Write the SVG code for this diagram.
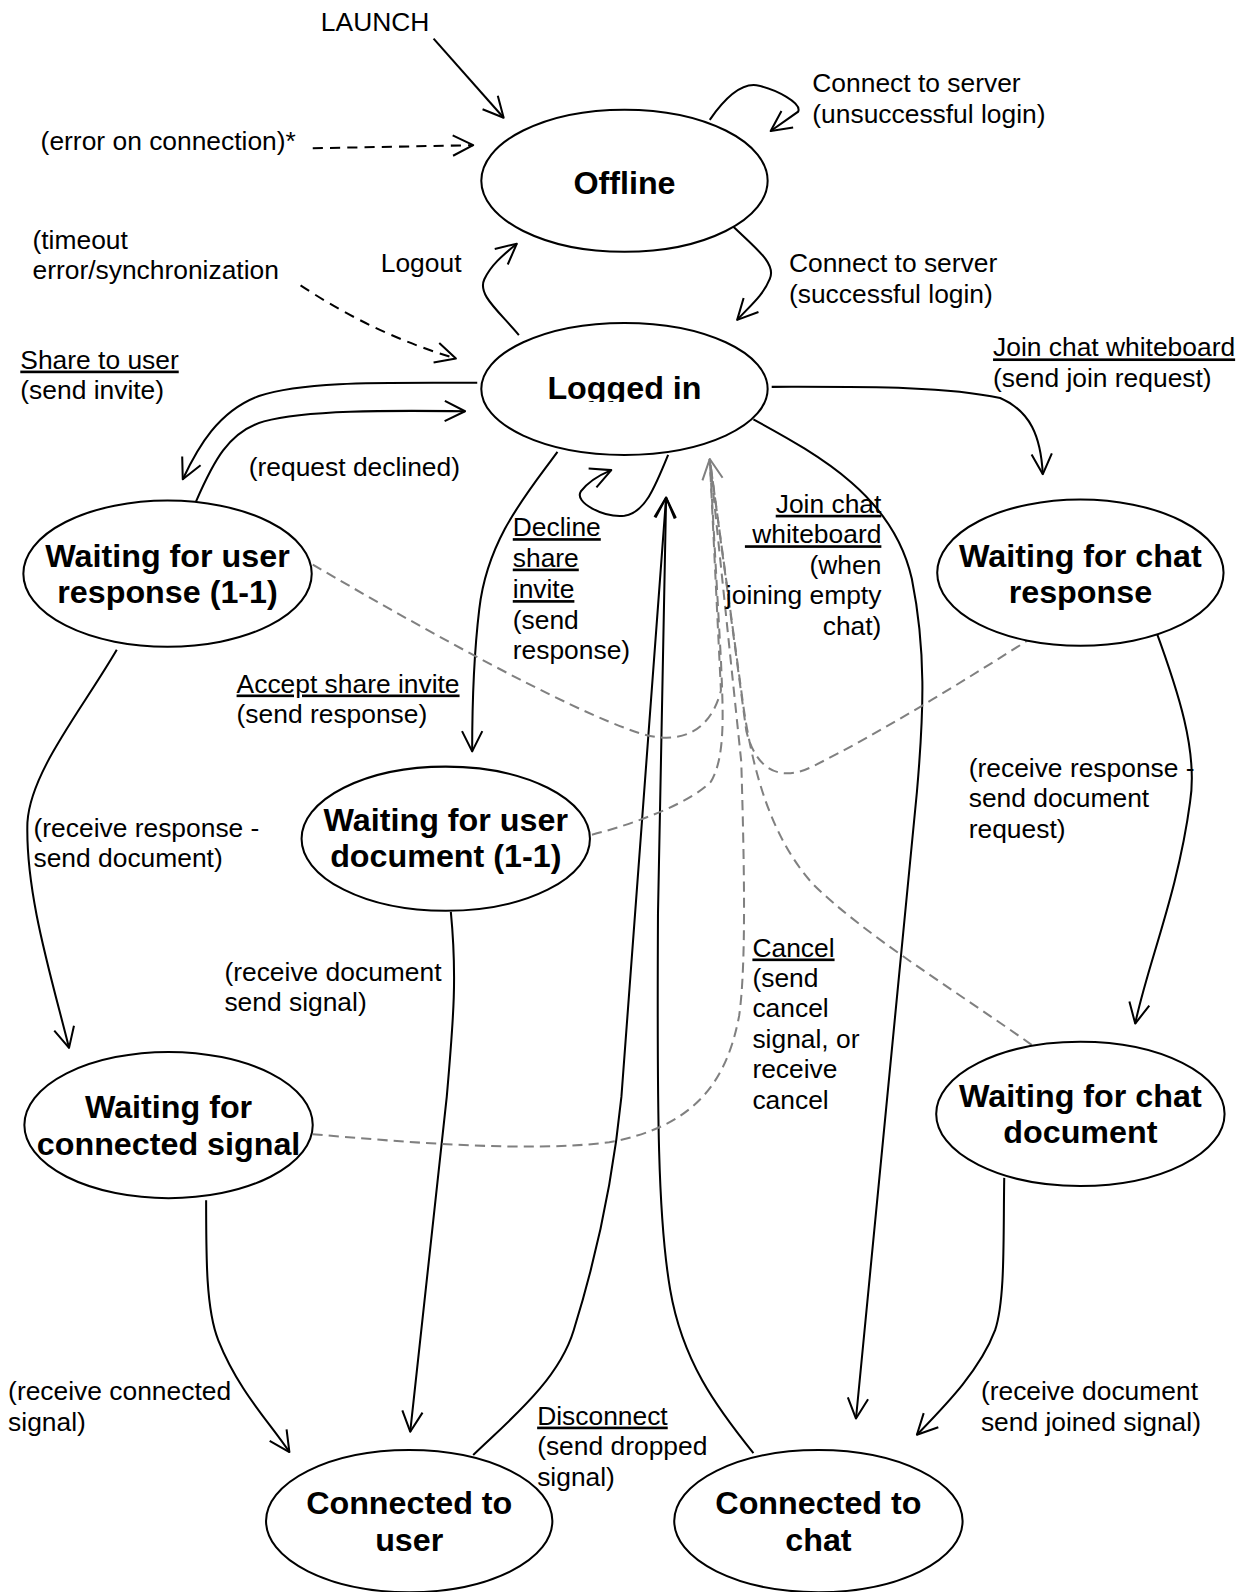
<svg xmlns="http://www.w3.org/2000/svg" width="1249" height="1592" viewBox="0 0 1249 1592">
<defs>
<style>
.n{fill:#fff;stroke:#000;stroke-width:2}
.nt{font-family:"Liberation Sans",Arial,sans-serif;font-weight:bold;font-size:31.8px;text-anchor:middle;fill:#000}
.l{font-family:"Liberation Sans",Arial,sans-serif;font-size:26px;fill:#000;white-space:pre}
.u{text-decoration:underline}
.c{fill:none;stroke:#000;stroke-width:2}
.d{fill:none;stroke:#000;stroke-width:2;stroke-dasharray:10 7}
.g{fill:none;stroke:#808080;stroke-width:2;stroke-dasharray:10 6}
</style>
<marker id="a" markerUnits="userSpaceOnUse" viewBox="0 0 24 24" refX="22" refY="12" markerWidth="24" markerHeight="24" orient="auto"><path d="M2,2 L22,12 L2,22" fill="none" stroke="#000" stroke-width="2" stroke-linejoin="round"/></marker>
<marker id="ag" markerUnits="userSpaceOnUse" viewBox="0 0 24 24" refX="22" refY="12" markerWidth="24" markerHeight="24" orient="auto"><path d="M2,2 L22,12 L2,22" fill="none" stroke="#808080" stroke-width="2" stroke-linejoin="round"/></marker>
<clipPath id="clipLogged"><rect x="470" y="310" width="300" height="86"/></clipPath>
</defs>
<rect width="1249" height="1592" fill="#fff"/>
<g transform="scale(1.0154)">
<g id="connectors">
<path class="c" marker-end="url(#a)" d="M427,38 L496,116"/>
<path class="d" marker-end="url(#a)" d="M308,146 L466,143"/>
<path class="c" marker-end="url(#a)" d="M699,118 C715,95 730,82 745,84 C765,88 790,102 786,110 L759,129"/>
<path class="c" marker-end="url(#a)" d="M722,223 C745,245 765,260 758,275 C752,290 740,300 726,315"/>
<path class="c" marker-end="url(#a)" d="M511,330 C490,305 470,290 477,275 C484,260 497,250 509,240"/>
<path class="d" marker-end="url(#a)" d="M296,281 Q370,330 449,353"/>
<path class="c" marker-end="url(#a)" d="M470,377 C380,377 300,375 255,390 C215,405 195,440 180,472"/>
<path class="c" marker-end="url(#a)" d="M193,494 C210,455 225,425 260,415 C300,404 380,404 458,405"/>
<path class="c" marker-end="url(#a)" d="M658,448 C645,480 635,505 615,508 C595,510 565,495 572,484 C578,476 590,468 602,463"/>
<path class="c" marker-end="url(#a)" d="M549,445 C520,485 480,530 472,600 C466,650 465,700 465,740"/>
<path class="c" marker-end="url(#a)" d="M760,381 C850,381 930,380 985,392 C1015,405 1025,430 1027,467"/>
<path class="c" marker-end="url(#a)" d="M742,413 C810,450 880,490 898,570 C912,640 910,700 903,780 L843,1397"/>
<path class="c" marker-end="url(#a)" d="M115,640 C80,700 30,760 27,810 C25,880 50,960 68,1032"/>
<path class="c" marker-end="url(#a)" d="M1138,620 C1160,680 1180,740 1172,790 C1160,880 1130,950 1118,1008"/>
<path class="c" marker-end="url(#a)" d="M444,898 C450,960 447,1000 440,1080 L404,1410"/>
<path class="c" marker-end="url(#a)" d="M203,1182 C203,1240 203,1290 215,1320 C235,1370 265,1400 285,1430"/>
<path class="c" marker-end="url(#a)" d="M989,1160 C988,1220 990,1280 980,1310 C965,1350 930,1385 903,1413"/>
<path class="c" marker-end="url(#a)" d="M466,1433 C500,1400 550,1360 565,1310 C590,1230 605,1150 612,1080 L656,490"/>
<path class="c" marker-end="url(#a)" d="M742,1431 C705,1385 672,1340 660,1270 C648,1200 647,1100 648,900 L656,490"/>
<path class="g" d="M308,556 C400,610 560,700 630,722 C670,735 700,720 710,680 L699,452"/>
<path class="g" d="M583,822 C630,810 680,790 700,770 C715,745 712,700 710,650 L699,452"/>
<path class="g" d="M308,1117 C400,1125 520,1135 600,1125 C680,1110 715,1070 728,1000 C735,950 733,850 730,750 L699,452"/>
<path class="g" d="M1018,627 C950,670 870,720 800,755 C770,770 745,760 735,720 L699,452"/>
<path class="g" marker-end="url(#ag)" d="M1016,1029 C940,975 850,920 800,870 C760,825 740,760 730,680 L699,452"/>
</g>
<g id="labels">
<text class="l" x="316" y="31">LAUNCH</text>
<text class="l" x="800" y="91">Connect to server</text>
<text class="l" x="800" y="121">(unsuccessful login)</text>
<text class="l" x="40" y="148">(error on connection)*</text>
<text class="l" x="32" y="245">(timeout</text>
<text class="l" x="32" y="275">error/synchronization</text>
<text class="l" x="375" y="268">Logout</text>
<text class="l" x="777" y="268">Connect to server</text>
<text class="l" x="777" y="298">(successful login)</text>
<text class="l u" x="20" y="363">Share to user</text>
<text class="l" x="20" y="393">(send invite)</text>
<text class="l u" x="978" y="351">Join chat whiteboard</text>
<text class="l" x="978" y="381">(send join request)</text>
<text class="l" x="245" y="469">(request declined)</text>
<text class="l u" x="505" y="528">Decline</text>
<text class="l u" x="505" y="558">share</text>
<text class="l u" x="505" y="589">invite</text>
<text class="l" x="505" y="619">(send</text>
<text class="l" x="505" y="649">response)</text>
<text class="l u" x="868" y="505" text-anchor="end">Join chat</text>
<text class="l u" x="868" y="535" text-anchor="end"> whiteboard</text>
<text class="l" x="868" y="565" text-anchor="end">(when</text>
<text class="l" x="868" y="595" text-anchor="end">joining empty</text>
<text class="l" x="868" y="625" text-anchor="end">chat)</text>
<text class="l u" x="233" y="682">Accept share invite</text>
<text class="l" x="233" y="712">(send response)</text>
<text class="l" x="954" y="765">(receive response -</text>
<text class="l" x="954" y="795">send document</text>
<text class="l" x="954" y="825">request)</text>
<text class="l" x="33" y="824">(receive response -</text>
<text class="l" x="33" y="854">send document)</text>
<text class="l" x="221" y="966">(receive document</text>
<text class="l" x="221" y="996">send signal)</text>
<text class="l u" x="741" y="942">Cancel</text>
<text class="l" x="741" y="972">(send</text>
<text class="l" x="741" y="1002">cancel</text>
<text class="l" x="741" y="1032">signal, or</text>
<text class="l" x="741" y="1062">receive</text>
<text class="l" x="741" y="1092">cancel</text>
<text class="l" x="8" y="1379">(receive connected</text>
<text class="l" x="8" y="1409">signal)</text>
<text class="l u" x="529" y="1403">Disconnect</text>
<text class="l" x="529" y="1433">(send dropped</text>
<text class="l" x="529" y="1463">signal)</text>
<text class="l" x="966" y="1379">(receive document</text>
<text class="l" x="966" y="1409">send joined signal)</text>
</g>
<g id="offline"><ellipse class="n" cx="615" cy="178" rx="141" ry="70"/><text class="nt" x="615" y="191">Offline</text></g>
<g id="logged-in"><ellipse class="n" cx="615" cy="383" rx="141" ry="65"/><text class="nt" x="615" y="393" clip-path="url(#clipLogged)">Logged in</text></g>
<g id="waiting-user-response"><ellipse class="n" cx="165" cy="565" rx="142" ry="72"/><text class="nt" x="165" y="558">Waiting for user</text><text class="nt" x="165" y="594">response (1-1)</text></g>
<g id="waiting-chat-response"><ellipse class="n" cx="1064" cy="564" rx="141" ry="72"/><text class="nt" x="1064" y="558">Waiting for chat</text><text class="nt" x="1064" y="594">response</text></g>
<g id="waiting-user-document"><ellipse class="n" cx="439" cy="826" rx="142" ry="71"/><text class="nt" x="439" y="818">Waiting for user</text><text class="nt" x="439" y="854">document (1-1)</text></g>
<g id="waiting-connected-signal"><ellipse class="n" cx="166" cy="1108" rx="142" ry="72"/><text class="nt" x="166" y="1101">Waiting for</text><text class="nt" x="166" y="1137">connected signal</text></g>
<g id="waiting-chat-document"><ellipse class="n" cx="1064" cy="1097" rx="142" ry="71"/><text class="nt" x="1064" y="1090">Waiting for chat</text><text class="nt" x="1064" y="1126">document</text></g>
<g id="connected-user"><ellipse class="n" cx="403" cy="1498" rx="141" ry="70"/><text class="nt" x="403" y="1491">Connected to</text><text class="nt" x="403" y="1527">user</text></g>
<g id="connected-chat"><ellipse class="n" cx="806" cy="1498" rx="142" ry="70"/><text class="nt" x="806" y="1491">Connected to</text><text class="nt" x="806" y="1527">chat</text></g>
</g>
</svg>
